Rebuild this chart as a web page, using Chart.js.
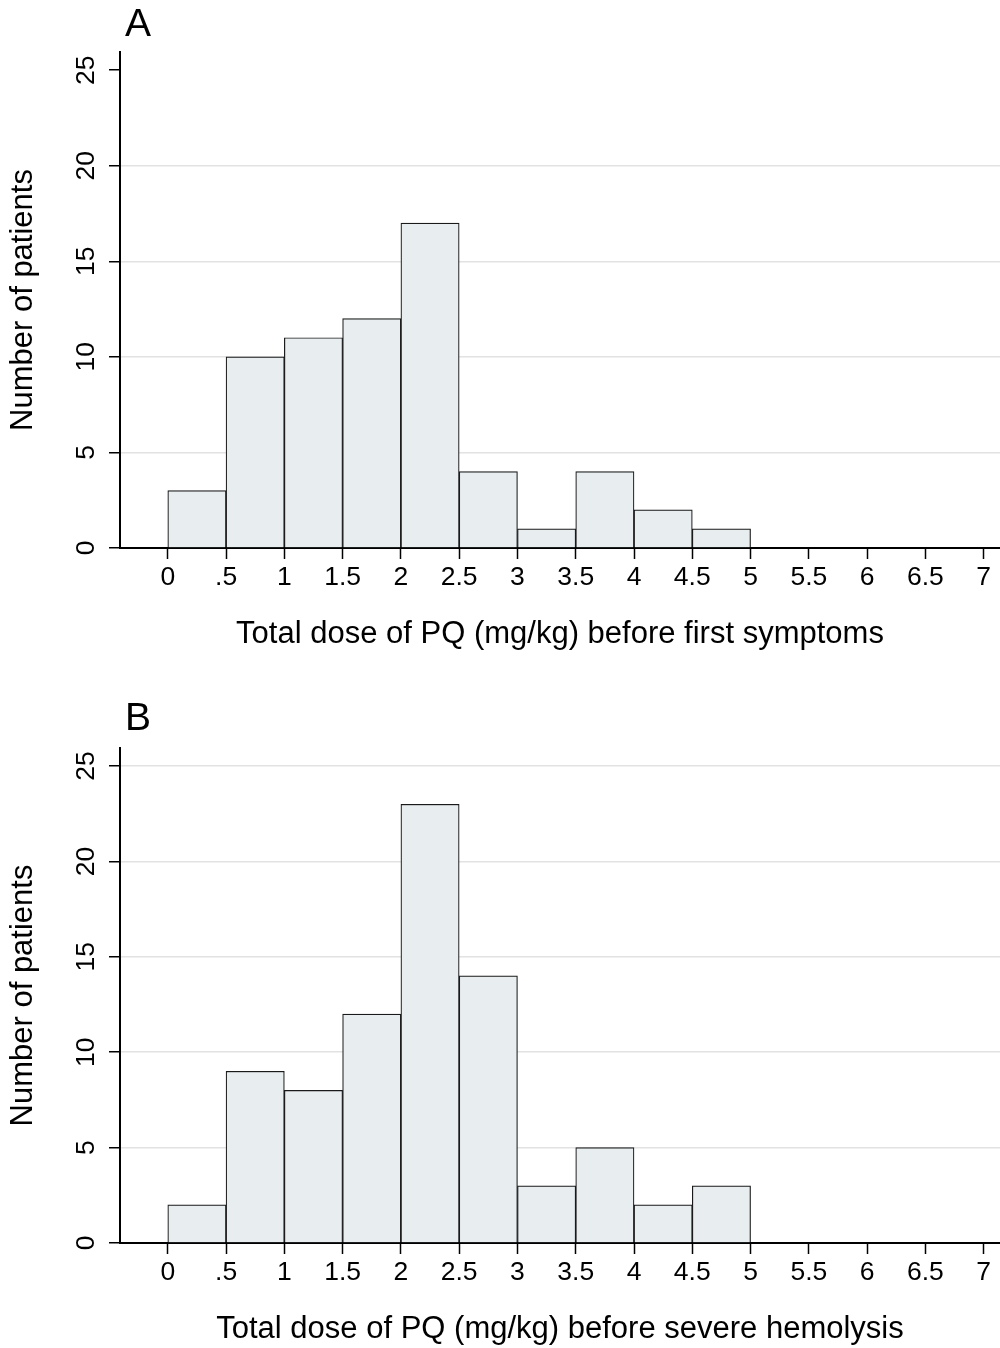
<!DOCTYPE html>
<html lang="en">
<head>
<meta charset="utf-8">
<title>Total dose of PQ</title>
<script src="https://cdn.jsdelivr.net/npm/chart.js@4.4.1/dist/chart.umd.min.js"></script>
<style>
  html, body { margin: 0; padding: 0; background: #fff; }
  #wrap { position: relative; width: 1000px; height: 1348px; }
  canvas { position: absolute; left: 0; }
  #chartA { top: 0; }
  #chartB { top: 696px; }
</style>
</head>
<body>
<div id="wrap">
  <canvas id="chartA" width="1000" height="656"></canvas>
  <canvas id="chartB" width="1000" height="652"></canvas>
</div>
<script>
// ========== DATA ==========
const binCenters = [0.25, 0.75, 1.25, 1.75, 2.25, 2.75, 3.25, 3.75, 4.25, 4.75];
const countsSymptoms = [3, 10, 11, 12, 17, 4, 1, 4, 2, 1];
const countsHemolysis = [2, 9, 8, 12, 23, 14, 3, 5, 2, 3];
const xTicks = [0, 0.5, 1, 1.5, 2, 2.5, 3, 3.5, 4, 4.5, 5, 5.5, 6, 6.5, 7];
const yTicks = [0, 5, 10, 15, 20, 25];
const yTitle = 'Number of patients';
const xTitleA = 'Total dose of PQ (mg/kg) before first symptoms';
const xTitleB = 'Total dose of PQ (mg/kg) before severe hemolysis';

Chart.defaults.font.family = '"Liberation Sans", Arial, sans-serif';
Chart.defaults.color = '#000';

// ========== PANEL LETTER ==========
const panelLetter = {
    id: 'panelLetter',
    afterDraw(chart, args, opts) {
        const ctx = chart.ctx;
        ctx.save();
        ctx.font = '39px "Liberation Sans", Arial, sans-serif';
        ctx.fillStyle = '#000';
        ctx.textAlign = 'left';
        ctx.textBaseline = 'alphabetic';
        ctx.fillText(opts.text, chart.chartArea.left + 5, opts.baseline);
        ctx.restore();
    }
};

// Stata style: ".5" instead of "0.5"
function formatarTick(v) {
    if (v > 0 && v < 1) return String(v).replace(/^0/, '');
    return String(v);
}

// ========== HISTOGRAM ==========
function criarHistograma(canvasId, counts, letter, letterBaseline, xTitle, titlePad, plotBottom, topGrid) {
    const canvas = document.getElementById(canvasId);
    const xHeight = canvas.height - plotBottom;

    return new Chart(canvas, {
        type: 'bar',
        data: {
            datasets: [{
                data: binCenters.map((x, i) => ({ x: x, y: counts[i] })),
                backgroundColor: '#e8eef0',
                borderColor: '#1a1a1a',
                borderWidth: 1.2,
                barPercentage: 1,
                categoryPercentage: 1
            }]
        },
        options: {
            responsive: false,
            animation: false,
            devicePixelRatio: 1,
            layout: { padding: { top: 52, left: 0, right: 0, bottom: 0 } },
            plugins: {
                legend: { display: false },
                tooltip: { enabled: false },
                panelLetter: { text: letter, baseline: letterBaseline }
            },
            scales: {
                x: {
                    type: 'linear',
                    min: -0.41,
                    max: 7.14,
                    offset: false,
                    z: 1,
                    afterBuildTicks: s => { s.ticks = xTicks.map(v => ({ value: v })); },
                    afterFit: s => { s.height = xHeight; },
                    grid: { offset: false, drawOnChartArea: false, drawTicks: true, tickLength: 11, tickColor: '#000', tickWidth: 1.5 },
                    border: { color: '#000', width: 2 },
                    ticks: { padding: 3, autoSkip: false, maxRotation: 0, font: { size: 26.5 }, color: '#000', callback: v => formatarTick(v) },
                    title: { display: true, text: xTitle, font: { size: 31 }, color: '#000', padding: { top: 0, bottom: titlePad } }
                },
                y: {
                    min: 0,
                    max: 25.95,
                    afterBuildTicks: s => { s.ticks = yTicks.map(v => ({ value: v })); },
                    afterFit: s => { s.width = 120; },
                    grid: {
                        color: ctx => {
                            const v = ctx.tick ? ctx.tick.value : 0;
                            if (v === 0) return 'rgba(0,0,0,0)';
                            if (v === 25 && !topGrid) return 'rgba(0,0,0,0)';
                            return '#e2e2e2';
                        },
                        lineWidth: 1.5,
                        drawTicks: true,
                        tickLength: 11,
                        tickColor: '#000',
                        tickWidth: 1.5
                    },
                    border: { color: '#000', width: 2 },
                    ticks: { minRotation: 90, maxRotation: 90, crossAlign: 'center', padding: 8, font: { size: 26.5 }, color: '#000' },
                    title: { display: true, text: yTitle, font: { size: 31 }, color: '#000', padding: { top: 5, bottom: 0 } }
                }
            }
        },
        plugins: [panelLetter]
    });
}

criarHistograma('chartA', countsSymptoms, 'A', 36, xTitleA, 3.4, 548, false);
criarHistograma('chartB', countsHemolysis, 'B', 34, xTitleB, 0, 547, true);
</script>
</body>
</html>
